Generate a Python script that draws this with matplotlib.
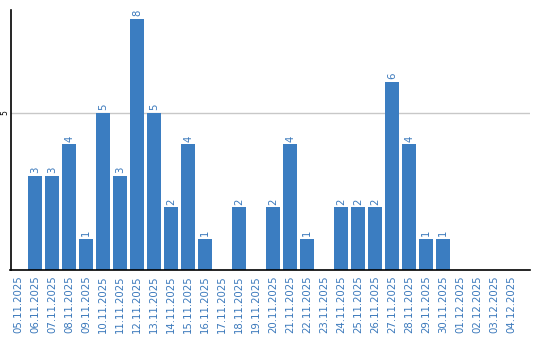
import matplotlib
matplotlib.use("Agg")
import matplotlib.pyplot as plt
import numpy as np

# Daily counts, 05.11.2025 - 04.12.2025
DATES = [
    "05.11.2025", "06.11.2025", "07.11.2025", "08.11.2025", "09.11.2025",
    "10.11.2025", "11.11.2025", "12.11.2025", "13.11.2025", "14.11.2025",
    "15.11.2025", "16.11.2025", "17.11.2025", "18.11.2025", "19.11.2025",
    "20.11.2025", "21.11.2025", "22.11.2025", "23.11.2025", "24.11.2025",
    "25.11.2025", "26.11.2025", "27.11.2025", "28.11.2025", "29.11.2025",
    "30.11.2025", "01.12.2025", "02.12.2025", "03.12.2025", "04.12.2025",
]
COUNTS = [0, 3, 3, 4, 1, 5, 3, 8, 5, 2, 4, 1, 0, 2, 0,
          2, 4, 1, 0, 2, 2, 2, 6, 4, 1, 1, 0, 0, 0, 0]
Y_TICKS = [5]

BAR_COLOR = "#3b7dc1"
TEXT_COLOR = "#3a78bb"

fig = plt.figure(figsize=(5.4, 3.4), dpi=100, facecolor="white")
ax = fig.add_axes([10.5 / 540, 70 / 340, 519.5 / 540, 260 / 340])

x = np.arange(len(DATES))
bars = ax.bar(x, COUNTS, width=0.82, color=BAR_COLOR, zorder=2)

# value labels above non-zero bars
for bar, v in zip(bars, COUNTS):
    if v > 0:
        ax.text(bar.get_x() + bar.get_width() / 2, v + 0.08, str(v),
                rotation=90, ha="center", va="bottom",
                fontsize=7.3, color=TEXT_COLOR)

ax.set_xlim(-0.45, 30.1)
ax.set_ylim(0, 8.28)

ax.set_xticks(x)
ax.set_xticklabels(DATES, rotation=90, fontsize=7.3, color=TEXT_COLOR)
ax.set_yticks(Y_TICKS)
ax.set_yticklabels([str(t) for t in Y_TICKS], rotation=90, fontsize=5.5,
                   va="center", color="black")
ax.tick_params(axis="both", length=0)
ax.tick_params(axis="x", pad=4)
ax.tick_params(axis="y", pad=1)

ax.grid(axis="y", color="#c8c8c8", linewidth=1, zorder=1)
ax.spines["top"].set_visible(False)
ax.spines["right"].set_visible(False)
ax.spines["left"].set_color("black")
ax.spines["bottom"].set_color("black")
ax.spines["left"].set_linewidth(1.2)
ax.spines["bottom"].set_linewidth(1.2)

fig.savefig("out.png", dpi=100, facecolor="white")
